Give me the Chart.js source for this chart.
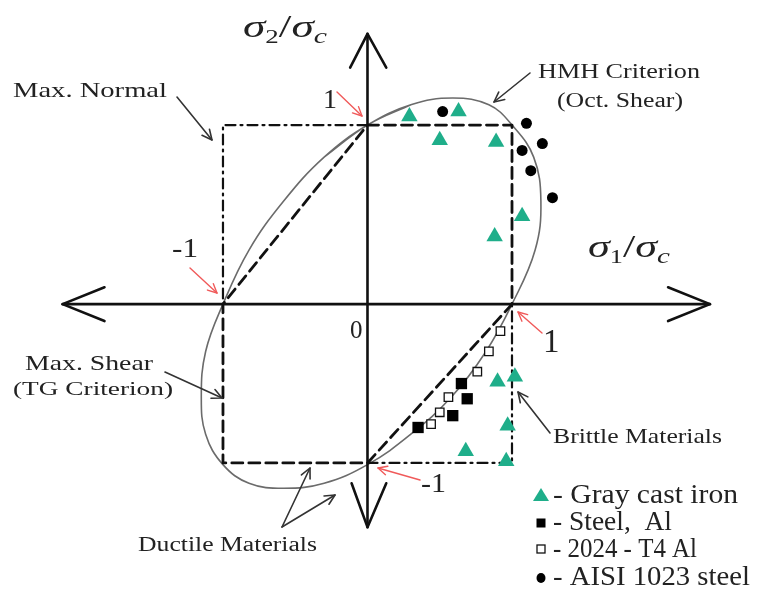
<!DOCTYPE html>
<html><head><meta charset="utf-8">
<script src="https://cdn.jsdelivr.net/npm/chart.js@4.4.1/dist/chart.umd.min.js"></script>
<style>html,body{margin:0;padding:0;background:#fff}#wrap{width:762px;height:613px;position:relative}</style>
</head><body><div id="wrap"><canvas id="c"></canvas></div>
<script>
// ---- data (sigma1/sigma_c , sigma2/sigma_c) ----
const seriesNames = ['Gray cast iron', 'Steel,  Al', '2024 - T4 Al', 'AISI 1023 steel'];
const grayIronX = [0.29, 0.63, 0.50, 0.89, 1.07, 0.88, 0.90, 1.02, 0.97, 0.68, 0.96];
const grayIronY = [1.05, 1.08, 0.91, 0.90, 0.46, 0.34, -0.52, -0.49, -0.78, -0.93, -0.99];
const steelAlX = [0.65, 0.69, 0.59, 0.35];
const steelAlY = [-0.53, -0.62, -0.72, -0.79];
const al2024X = [0.92, 0.84, 0.76, 0.56, 0.50, 0.44];
const al2024Y = [-0.22, -0.34, -0.46, -0.61, -0.70, -0.77];
const aisiX = [0.52, 1.10, 1.21, 1.07, 1.13, 1.28];
const aisiY = [1.08, 1.01, 0.89, 0.85, 0.73, 0.57];
// HMH (octahedral shear) ellipse (closed, with wrap-around points)
const hmhX = [-0.30, 0.00, 0.30, 0.59, 0.84, 1.00, 1.15, 1.20, 1.16, 1.00, 0.82, 0.58, 0.30, 0.00, -0.30, -0.58, -0.82, -1.00, -1.12, -1.15, -1.12, -1.00, -0.82, -0.58, -0.30, 0.00, 0.30];
const hmhY = [0.81, 1.00, 1.12, 1.16, 1.12, 1.00, 0.81, 0.55, 0.26, -0.06, -0.34, -0.61, -0.83, -1.01, -1.12, -1.15, -1.12, -1.01, -0.83, -0.61, -0.34, -0.06, 0.26, 0.55, 0.81, 1.00, 1.12];
// Max shear (Tresca) hexagon
const trescaX = [0, 1, 1, 0, -1, -1, 0];
const trescaY = [1, 1, -0.06, -1, -1, -0.06, 1];
// Max normal square (remaining sides)
const normalAX = [0, -1, -1];
const normalAY = [1, 1, -0.06];
const normalBX = [0, 1, 1];
const normalBY = [-1, -1, -0.06];
// axes with arrow heads
const hAxisX = [-2.11, 2.37], hAxisY = [-0.06, -0.06];
const hHeadRX = [2.08, 2.37, 2.08], hHeadRY = [0.04, -0.06, -0.16];
const hHeadLX = [-1.82, -2.11, -1.82], hHeadLY = [0.04, -0.06, -0.16];
const vAxisX = [0, 0], vAxisY = [1.54, -1.38];
const vHeadTX = [-0.12, 0, 0.13], vHeadTY = [1.34, 1.54, 1.34];
const vHeadBX = [-0.11, 0, 0.13], vHeadBY = [-1.12, -1.38, -1.12];

const pts = (xs, ys) => xs.map((x, i) => ({x: x, y: ys[i]}));
const GREEN = '#1fae8a';

function lineDS(xs, ys, color, width, dash, order, tension) {
  return {data: pts(xs, ys), showLine: true, pointRadius: 0, borderColor: color, borderWidth: width,
    borderDash: dash || [], tension: tension || 0, order: order, fill: false, borderCapStyle: 'round', borderJoinStyle: 'round'};
}

function drawText(ctx, s, x, y, size, w, opt) {
  opt = opt || {};
  ctx.save();
  ctx.font = (opt.italic ? 'italic ' : '') + size + 'px "Liberation Serif"';
  ctx.fillStyle = opt.color || '#222';
  ctx.textBaseline = 'alphabetic';
  const m = ctx.measureText(s).width;
  const sx = w ? w / m : 1;
  ctx.translate(x, y); ctx.scale(sx, 1);
  ctx.fillText(s, 0, 0);
  ctx.restore();
}
function drawSigmaLabel(ctx, sub1, x, y, w) {
  const parts = [
    {t: 'σ', s: 32, dy: 0, it: true}, {t: sub1, s: 19, dy: 6, it: false},
    {t: '/', s: 32, dy: 0, it: false}, {t: 'σ', s: 32, dy: 0, it: true}, {t: 'c', s: 21, dy: 6, it: true}];
  ctx.save();
  let total = 0;
  parts.forEach(p => { ctx.font = (p.it ? 'italic ' : '') + p.s + 'px "Liberation Serif"'; p.w = ctx.measureText(p.t).width; total += p.w; });
  const sx = w / total;
  ctx.translate(x, y); ctx.scale(sx, 1);
  ctx.fillStyle = '#222';
  let cx = 0;
  parts.forEach(p => { ctx.font = (p.it ? 'italic ' : '') + p.s + 'px "Liberation Serif"'; ctx.fillText(p.t, cx, p.dy); cx += p.w; });
  ctx.restore();
}
function drawArrow(ctx, x1, y1, x2, y2, color, lw, head) {
  ctx.save();
  ctx.strokeStyle = color; ctx.lineWidth = lw; ctx.lineCap = 'round'; ctx.lineJoin = 'round';
  ctx.beginPath(); ctx.moveTo(x1, y1); ctx.lineTo(x2, y2); ctx.stroke();
  const a = Math.atan2(y2 - y1, x2 - x1), L = head || 11, sp = 0.45;
  ctx.beginPath();
  ctx.moveTo(x2 - L * Math.cos(a - sp), y2 - L * Math.sin(a - sp));
  ctx.lineTo(x2, y2);
  ctx.lineTo(x2 - L * Math.cos(a + sp), y2 - L * Math.sin(a + sp));
  ctx.stroke();
  ctx.restore();
}

const annotations = {
  id: 'annotations',
  afterDatasetsDraw(chart) {
    const ctx = chart.ctx;
    // axis titles
    drawSigmaLabel(ctx, '2', 243, 37, 84);
    drawSigmaLabel(ctx, '1', 588, 257, 82);
    // criterion labels
    drawText(ctx, 'Max. Normal', 13, 97, 21, 154);
    drawText(ctx, 'HMH Criterion', 538, 78, 21, 162);
    drawText(ctx, '(Oct. Shear)', 557, 107, 20, 126);
    drawText(ctx, 'Max. Shear', 25, 370, 21, 128);
    drawText(ctx, '(TG Criterion)', 13, 395, 19, 160);
    drawText(ctx, 'Ductile Materials', 138, 551, 20, 179);
    drawText(ctx, 'Brittle Materials', 553, 443, 21, 169);
    // value labels
    drawText(ctx, '0', 350, 338, 25);
    drawText(ctx, '1', 323, 108, 28);
    drawText(ctx, '-1', 172, 257, 28, 26);
    drawText(ctx, '1', 543, 352, 33);
    drawText(ctx, '-1', 421, 492, 28, 25);
    // black pointer arrows
    const K = '#333';
    drawArrow(ctx, 177, 97, 212, 140, K, 1.6);
    drawArrow(ctx, 530, 73, 494, 102, K, 1.6);
    drawArrow(ctx, 165, 372, 222, 398, K, 1.6);
    drawArrow(ctx, 550, 433, 518, 392, K, 1.6);
    drawArrow(ctx, 282, 527, 310, 468, K, 1.6);
    drawArrow(ctx, 282, 527, 335, 495, K, 1.6);
    // red pointer arrows
    const R = '#f05a5a';
    drawArrow(ctx, 337, 92, 362, 116, R, 1.4, 10);
    drawArrow(ctx, 190, 268, 217, 293, R, 1.4, 10);
    drawArrow(ctx, 542, 333, 518, 312, R, 1.4, 10);
    drawArrow(ctx, 420, 480, 378, 468, R, 1.4, 10);
    // legend
    ctx.save();
    const lx = 541;
    ctx.fillStyle = GREEN;
    ctx.beginPath(); ctx.moveTo(lx, 488); ctx.lineTo(lx + 8, 501); ctx.lineTo(lx - 8, 501); ctx.closePath(); ctx.fill();
    ctx.fillStyle = '#000'; ctx.fillRect(lx - 4.5, 518.5, 9, 9);
    ctx.fillStyle = '#fff'; ctx.strokeStyle = '#111'; ctx.lineWidth = 1.3;
    ctx.fillRect(lx - 4, 545, 8, 8); ctx.strokeRect(lx - 4, 545, 8, 8);
    ctx.fillStyle = '#000'; ctx.beginPath(); ctx.ellipse(lx, 578, 4.5, 5, 0, 0, Math.PI * 2); ctx.fill();
    ctx.restore();
    drawText(ctx, '- ' + seriesNames[0], 553, 503, 28, 185);
    drawText(ctx, '- ' + seriesNames[1], 553, 530, 28, 119);
    drawText(ctx, '- ' + seriesNames[2], 553, 557, 28, 144);
    drawText(ctx, '- ' + seriesNames[3], 553, 585, 28, 197);
  }
};

const datasets = [
  {label: seriesNames[0], data: pts(grayIronX, grayIronY), pointStyle: 'triangle', pointRadius: 9.5, backgroundColor: GREEN, borderColor: GREEN, borderWidth: 0, showLine: false, order: 1},
  {label: seriesNames[1], data: pts(steelAlX, steelAlY), pointStyle: 'rect', pointRadius: 8, backgroundColor: '#000', borderColor: '#000', borderWidth: 0, showLine: false, order: 1},
  {label: seriesNames[2], data: pts(al2024X, al2024Y), pointStyle: 'rect', pointRadius: 6, backgroundColor: '#fff', borderColor: '#111', borderWidth: 1.3, showLine: false, order: 1},
  {label: seriesNames[3], data: pts(aisiX, aisiY), pointStyle: 'circle', pointRadius: 5.5, backgroundColor: '#000', borderColor: '#000', borderWidth: 0, showLine: false, order: 1},
  lineDS(hmhX, hmhY, '#6b6b6b', 1.6, [], 5, 0.4),
  lineDS(trescaX, trescaY, '#111', 2.8, [11, 6], 4),
  lineDS(normalAX, normalAY, '#111', 2.2, [10, 5, 2, 5], 4),
  lineDS(normalBX, normalBY, '#111', 2.2, [10, 5, 2, 5], 4),
  lineDS(hAxisX, hAxisY, '#111', 2.6, [], 3),
  lineDS(hHeadRX, hHeadRY, '#111', 2.6, [], 3),
  lineDS(hHeadLX, hHeadLY, '#111', 2.6, [], 3),
  lineDS(vAxisX, vAxisY, '#111', 2.6, [], 3),
  lineDS(vHeadTX, vHeadTY, '#111', 2.6, [], 3),
  lineDS(vHeadBX, vHeadBY, '#111', 2.6, [], 3)
];

new Chart(document.getElementById('c'), {
  type: 'scatter',
  data: {datasets: datasets},
  options: {
    responsive: true, maintainAspectRatio: false, animation: false,
    layout: {padding: 0, autoPadding: false},
    plugins: {legend: {display: false}, tooltip: {enabled: false}},
    scales: {
      x: {type: 'linear', display: false, min: -2.543, max: 2.730},
      y: {type: 'linear', display: false, min: -1.888, max: 1.740}
    }
  },
  plugins: [annotations]
});
</script>
</body></html>
